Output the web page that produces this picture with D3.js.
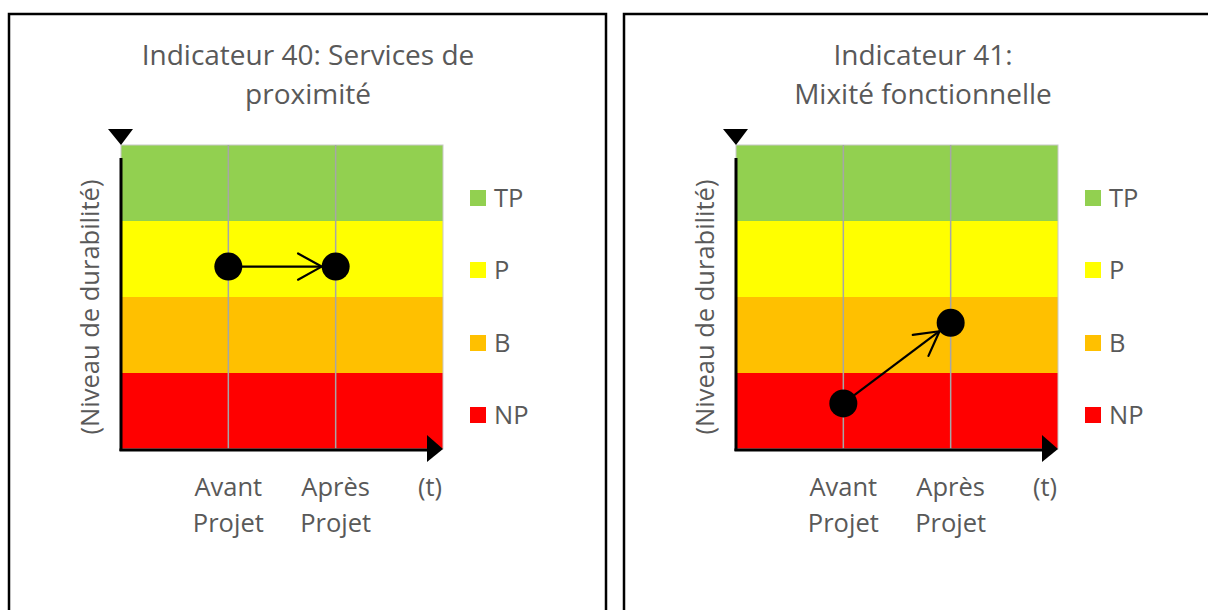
<!DOCTYPE html>
<html>
<head>
<meta charset="utf-8">
<script src="https://cdn.jsdelivr.net/npm/d3@7"></script>
<style>
  body { margin: 0; background: #fff; }
  text { font-family: "Open Sans", Lato, sans-serif; fill: #595959; }
</style>
</head>
<body>
<div id="chart"></div>
<script>
const W = 1208, H = 610
const levels = ["NP", "B", "P", "TP"]
const levelColors = ["#ff0000", "#ffc000", "#ffff00", "#92d050"]
const periods = [["Avant", "Projet"], ["Après", "Projet"]]
const titles = [["Indicateur 40: Services de", "proximité"], ["Indicateur 41:", "Mixité fonctionnelle"]]
const values40 = [2.4, 2.4]
const values41 = [0.6, 1.66]
const panelValues = [values40, values41]

const plot = {left: 121, right: 443, top: 145, bottom: 449}
const panelOffset = 615
const labelSize = 25.5

const svg = d3.select("#chart").append("svg")
  .attr("width", W)
  .attr("height", H)

// x: 3 slots, points sit on the slot boundaries
const x = d3.scaleLinear().domain([0, 3]).range([plot.left, plot.right])
const y = d3.scaleLinear().domain([0, 4]).range([plot.bottom, plot.top])

// panel frames
svg.append("rect").attr("x", 9).attr("y", 14).attr("width", 597).attr("height", 620)
  .attr("fill", "none").attr("stroke", "#000").attr("stroke-width", 2.5)
svg.append("rect").attr("x", 624).attr("y", 14).attr("width", 620).attr("height", 620)
  .attr("fill", "none").attr("stroke", "#000").attr("stroke-width", 2.5)

function drawPanel(i) {
  const g = svg.append("g").attr("transform", `translate(${i * panelOffset},0)`)
  const vals = panelValues[i]

  // title
  g.append("text")
    .attr("x", 308).attr("text-anchor", "middle")
    .attr("font-size", 28)
    .selectAll("tspan")
    .data(titles[i])
    .enter().append("tspan")
      .attr("x", 308)
      .attr("y", (d, j) => 65 + j * 39)
      .text(d => d)

  // colour bands
  g.selectAll(".band")
    .data(levels)
    .enter().append("rect")
      .attr("x", x(0))
      .attr("y", (d, j) => y(j + 1))
      .attr("width", x(3) - x(0))
      .attr("height", (d, j) => y(j) - y(j + 1))
      .attr("fill", (d, j) => levelColors[j])

  // plot area outline + vertical gridlines
  g.append("rect")
    .attr("x", x(0)).attr("y", y(4))
    .attr("width", x(3) - x(0)).attr("height", y(0) - y(4))
    .attr("fill", "none").attr("stroke", "#c8c8c8").attr("stroke-width", 1)
  g.selectAll(".grid")
    .data([1, 2])
    .enter().append("line")
      .attr("x1", d => x(d)).attr("x2", d => x(d))
      .attr("y1", y(4)).attr("y2", y(0))
      .attr("stroke", "#a6a6a6").attr("stroke-width", 1.5)

  // axes
  g.append("line")
    .attr("x1", x(0)).attr("x2", x(0))
    .attr("y1", y(4) + 13).attr("y2", y(0) + 2)
    .attr("stroke", "#000").attr("stroke-width", 3)
  g.append("path")
    .attr("d", `M${x(0) - 13},${y(4) - 16}L${x(0) + 12},${y(4) - 16}L${x(0)},${y(4)}Z`)
    .attr("fill", "#000")
  g.append("line")
    .attr("x1", x(0) - 1.5).attr("x2", x(3) - 14)
    .attr("y1", y(0) + 1).attr("y2", y(0) + 1)
    .attr("stroke", "#000").attr("stroke-width", 3)
  g.append("path")
    .attr("d", `M${x(3) - 16},${y(0) - 14}L${x(3)},${y(0)}L${x(3) - 16},${y(0) + 13}Z`)
    .attr("fill", "#000")

  // y axis label
  g.append("text")
    .attr("transform", `translate(99,307) rotate(-90)`)
    .attr("text-anchor", "middle")
    .attr("font-size", labelSize)
    .text("(Niveau de durabilité)")

  // x labels
  g.selectAll(".xlab")
    .data(periods)
    .enter().append("text")
      .attr("text-anchor", "middle")
      .attr("font-size", labelSize)
      .each(function(d, j) {
        d3.select(this).selectAll("tspan")
          .data(d)
          .enter().append("tspan")
            .attr("x", x(j + 1))
            .attr("y", (t, k) => 496 + k * 36)
            .text(t => t)
      })
  g.append("text")
    .attr("x", x(3) - 13).attr("y", 496)
    .attr("text-anchor", "middle")
    .attr("font-size", labelSize)
    .text("(t)")

  // legend
  const legendY = [415, 343, 270, 198]
  levels.forEach((lv, j) => {
    g.append("rect")
      .attr("x", 470).attr("y", legendY[j] - 8)
      .attr("width", 16).attr("height", 16)
      .attr("fill", levelColors[j])
    g.append("text")
      .attr("x", 494).attr("y", legendY[j] + 9)
      .attr("font-size", labelSize)
      .text(lv)
  })

  // arrow between the two points
  const r = 14
  const p1 = [x(1), y(vals[0])], p2 = [x(2), y(vals[1])]
  const ang = Math.atan2(p2[1] - p1[1], p2[0] - p1[0])
  const tip = [p2[0] - r * Math.cos(ang), p2[1] - r * Math.sin(ang)]
  const headLen = 27, headAng = 29 * Math.PI / 180
  g.append("line")
    .attr("x1", p1[0]).attr("y1", p1[1])
    .attr("x2", tip[0]).attr("y2", tip[1])
    .attr("stroke", "#000").attr("stroke-width", 2.2)
  g.append("path")
    .attr("d", `M${tip[0] - headLen * Math.cos(ang - headAng)},${tip[1] - headLen * Math.sin(ang - headAng)}` +
      `L${tip[0]},${tip[1]}` +
      `L${tip[0] - headLen * Math.cos(ang + headAng)},${tip[1] - headLen * Math.sin(ang + headAng)}`)
    .attr("fill", "none").attr("stroke", "#000").attr("stroke-width", 2.2)
    .attr("stroke-linecap", "round")

  g.selectAll(".pt")
    .data(vals)
    .enter().append("circle")
      .attr("cx", (d, j) => x(j + 1))
      .attr("cy", d => y(d))
      .attr("r", r)
      .attr("fill", "#000")
}

drawPanel(0)
drawPanel(1)
</script>
</body>
</html>
